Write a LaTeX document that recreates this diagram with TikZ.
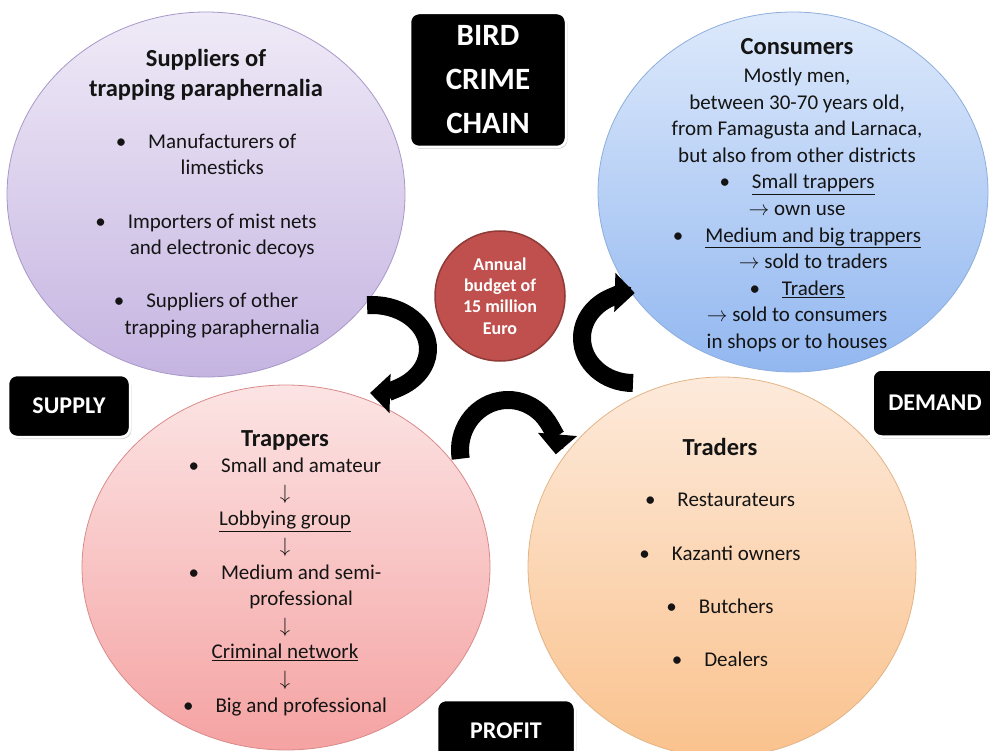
\documentclass[tikz,border=0pt]{standalone}
\usepackage{fontspec}
\setmainfont{Carlito}
\usepackage{tikz}
\usetikzlibrary{arrows.meta,shapes.geometric,shadows}
\definecolor{lilacTop}{HTML}{EFEAF7}
\definecolor{lilacBot}{HTML}{C5B4E1}
\definecolor{lilacLine}{HTML}{A898C8}
\definecolor{skyTop}{HTML}{DDE9FB}
\definecolor{skyBot}{HTML}{92B7F0}
\definecolor{skyLine}{HTML}{8DAEDD}
\definecolor{roseTop}{HTML}{FCE4E4}
\definecolor{roseBot}{HTML}{F5A2A2}
\definecolor{roseLine}{HTML}{D98A8A}
\definecolor{peachTop}{HTML}{FDEADB}
\definecolor{peachBot}{HTML}{FAC28D}
\definecolor{peachLine}{HTML}{E2B486}
\definecolor{budgetRed}{HTML}{C0504D}
\definecolor{budgetLine}{HTML}{8E3A37}
\definecolor{ink}{HTML}{141414}
\tikzstyle{blob}=[ellipse,draw,line width=0.8pt,inner sep=0pt]
\tikzstyle{circtitle}=[font=\fontsize{24.5}{30}\selectfont\bfseries,text=ink,align=center,inner sep=0pt]
\tikzstyle{circtext}=[font=\fontsize{21}{26.6}\selectfont,text=ink,align=center,inner sep=0pt]
\tikzstyle{tagbox}=[rectangle,rounded corners=9pt,fill=black,draw=white,line width=2.5pt,text=white,
  font=\fontsize{24}{30}\selectfont\bfseries,drop shadow={shadow xshift=1.5pt,shadow yshift=-2pt,opacity=0.3}]
\newcommand\itm{\textbullet\hspace{22pt}}
\newcommand\itmsp{\phantom{\itm}}
\newcommand\rarr{$\rightarrow$}
\newcommand\darr{$\downarrow$}

\begin{document}
\begin{tikzpicture}[x=1pt,y=-1pt]
        \tikzset{bigarrow/.style = {draw,line width=18pt,-{Triangle[length=20pt,width=38pt]}}}
        \useasboundingbox (0,0) rectangle (990,751);
        \clip (0,0) rectangle (990,751);
        \node[blob,minimum width=398pt,minimum height=365pt,draw=lilacLine,top color=lilacTop,bottom color=lilacBot] (suppliers) at (206,194.5) {};
        \node[blob,minimum width=390pt,minimum height=360pt,draw=skyLine,top color=skyTop,bottom color=skyBot] (consumers) at (793,192) {};
        \node[blob,minimum width=408pt,minimum height=365pt,draw=roseLine,top color=roseTop,bottom color=roseBot] (trappers) at (286,567.5) {};
        \node[blob,minimum width=388pt,minimum height=380pt,draw=peachLine,top color=peachTop,bottom color=peachBot] (traders) at (722,567) {};
        \node[circle,minimum size=130pt,inner sep=0pt,fill=budgetRed,draw=budgetLine,line width=1.5pt,text=white,
          font=\fontsize{18}{21.5}\selectfont\bfseries,align=center] (budget) at (500,296) {Annual\\budget of\\15 million\\Euro};
        \node[circtitle] (supHead) at (206,75) {Suppliers of\\trapping paraphernalia};
        \node[circtext] (supText) at (206,236) {\itm Manufacturers of\\\itmsp limesticks\\[26.6pt]\itm Importers of mist nets\\\itmsp and electronic decoys\\[26.6pt]\itm Suppliers of other\\\itmsp trapping paraphernalia};
        \node[circtitle] (conHead) at (797,47) {Consumers};
        \node[circtext] (conText) at (797,210) {Mostly men,\\between 30-70 years old,\\from Famagusta and Larnaca,\\but also from other districts\\\itm\underline{Small trappers}\\\rarr{} own use\\\itm\underline{Medium and big trappers}\\\itmsp\rarr{} sold to traders\\\itm\underline{Traders}\\\rarr{} sold to consumers\\in shops or to houses};
        \node[circtitle] (trpHead) at (285,440) {Trappers};
        \node[circtext] (trpText) at (285,587) {\itm Small and amateur\\\darr\\\underline{Lobbying group}\\\darr\\\itm Medium and semi-\\\itmsp professional\\\darr\\\underline{Criminal network}\\\darr\\\itm Big and professional};
        \node[circtitle] (trdHead) at (720,447) {Traders};
        \node[circtext] (trdText) at (720,580) {\itm Restaurateurs\\[26.6pt]\itm Kazanti owners\\[26.6pt]\itm Butchers\\[26.6pt]\itm Dealers};
        \coordinate (supArc) at (372,349);
        \coordinate (conArc) at (633,340);
        \coordinate (prfArc) at (508,450);
        \draw[bigarrow] ([shift={(-95:56 and 44)}]supArc) arc[start angle=-95,end angle=92,x radius=56,y radius=44];
        \draw[bigarrow] ([shift={(90:51 and 43)}]conArc) arc[start angle=90,end angle=272,x radius=51,y radius=45];
        \draw[bigarrow] ([shift={(170:48 and 50)}]prfArc) arc[start angle=170,end angle=365,x radius=48,y radius=50];
        \node[tagbox,minimum width=156pt,minimum height=134pt,font=\fontsize{31}{44}\selectfont\bfseries,align=center] (title) at (488,80) {BIRD\\CRIME\\CHAIN};
        \node[tagbox,minimum width=122pt,minimum height=62pt] (supply) at (69,406) {SUPPLY};
        \node[tagbox,minimum width=125pt,minimum height=67pt] (demand) at (935,403) {DEMAND};
        \node[tagbox,minimum width=138pt,minimum height=62pt] (profit) at (506,731) {PROFIT};
      \end{tikzpicture}
\end{document}
